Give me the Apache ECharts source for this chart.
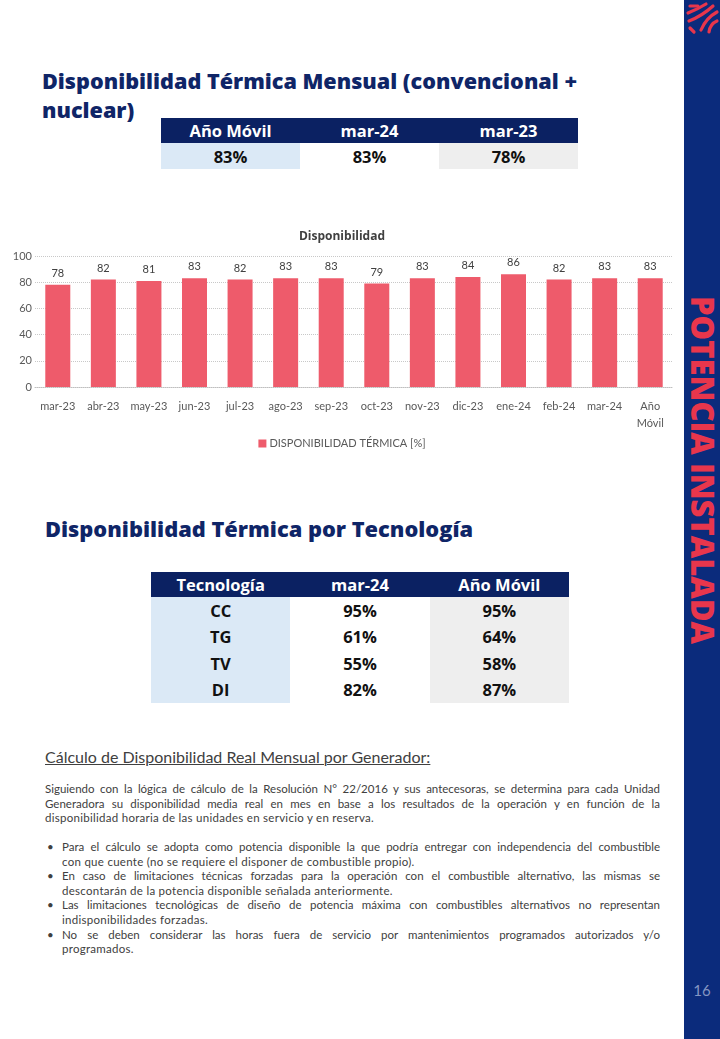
<!DOCTYPE html>
<html>
<head>
<meta charset="utf-8">
<script src="https://cdn.jsdelivr.net/npm/echarts@6/dist/echarts.min.js"></script>
<style>
  html,body{margin:0;padding:0;background:#fff;}
  body{width:720px;height:1039px;position:relative;overflow:hidden;font-family:"Lato","Open Sans",sans-serif;}
  .abs{position:absolute;}
  .title{font-family:"Open Sans",sans-serif;font-weight:800;color:#0f2567;white-space:nowrap;}
  table.t{position:absolute;border-collapse:collapse;font-family:"Open Sans",sans-serif;font-weight:700;table-layout:fixed;}
  table.t th{background:#0b2162;color:#fff;font-size:16.5px;font-weight:700;padding:0;text-align:center;}
  table.t td{color:#111;font-size:16.5px;padding:0;text-align:center;}
  .c1{background:#dbe9f6;}
  .c3{background:#eeeeee;}
  #sidebar{position:absolute;left:684px;top:0;width:36px;height:1039px;background:#0b2b7c;}
  #vert{position:absolute;left:703px;top:470px;transform:translate(-50%,-50%) rotate(90deg);font-family:"Open Sans",sans-serif;font-weight:800;font-size:31px;color:#e8364c;white-space:nowrap;}
  #pnum{position:absolute;left:684px;width:36px;top:981px;text-align:center;font-family:"Lato",sans-serif;font-size:15px;color:#8596c2;}
  .body{color:#404040;font-size:11.5px;letter-spacing:0.28px;line-height:14.6px;}
  .j{text-align:justify;text-align-last:justify;white-space:nowrap;letter-spacing:0;}
  .l{text-align:left;white-space:nowrap;}
  .li{position:relative;padding-left:17px;}
  .li .dot{position:absolute;left:2px;top:0;}
</style>
</head>
<body>
<div id="sidebar"></div>
<svg class="abs" style="left:684px;top:0" width="36" height="40" viewBox="0 0 36 40">
  <g fill="none" stroke="#e8364c" stroke-width="3.2" stroke-linecap="round">
    <path d="M6 6 L14 6"/>
    <path d="M4 13 Q14 9 22 4"/>
    <path d="M5 21 Q18 16 29 6"/>
    <path d="M33 12 Q22 18 17 30"/>
    <path d="M33 21 Q26 24 25 32"/>
    <path d="M6 28 L10 32"/>
  </g>
</svg>
<div id="vert">POTENCIA INSTALADA</div>
<div id="pnum">16</div>

<div class="abs title" id="t1" style="left:42px;top:66px;font-size:21.6px;line-height:29px;">Disponibilidad Térmica Mensual (convencional +<br>nuclear)</div>
<table class="t" id="tab1" style="left:161px;top:118px;width:417px;"></table>

<div id="chart" class="abs" style="left:0;top:215px;width:684px;height:250px;"></div>

<div class="abs title" id="t2" style="left:45px;top:514px;font-size:21.8px;line-height:29px;">Disponibilidad Térmica por Tecnología</div>
<table class="t" id="tab2" style="left:151px;top:572px;width:418px;"></table>

<div class="abs" style="left:45px;top:747px;font-size:16px;color:#404040;text-decoration:underline;text-decoration-thickness:1px;white-space:nowrap;">Cálculo de Disponibilidad Real Mensual por Generador:</div>
<div class="abs body" style="left:45px;top:782px;width:615px;">
  <div class="j">Siguiendo con la lógica de cálculo de la Resolución N° 22/2016 y sus antecesoras, se determina para cada Unidad</div>
  <div class="j">Generadora su disponibilidad media real en mes en base a los resultados de la operación y en función de la</div>
  <div class="l">disponibilidad horaria de las unidades en servicio y en reserva.</div>
</div>
<div class="abs body" style="left:45px;top:840px;width:615px;">
  <div class="li"><span class="dot">•</span><div class="j">Para el cálculo se adopta como potencia disponible la que podría entregar con independencia del combustible</div><div class="l">con que cuente (no se requiere el disponer de combustible propio).</div></div>
  <div class="li"><span class="dot">•</span><div class="j">En caso de limitaciones técnicas forzadas para la operación con el combustible alternativo, las mismas se</div><div class="l">descontarán de la potencia disponible señalada anteriormente.</div></div>
  <div class="li"><span class="dot">•</span><div class="j">Las limitaciones tecnológicas de diseño de potencia máxima con combustibles alternativos no representan</div><div class="l">indisponibilidades forzadas.</div></div>
  <div class="li"><span class="dot">•</span><div class="j">No se deben considerar las horas fuera de servicio por mantenimientos programados autorizados y/o</div><div class="l">programados.</div></div>
</div>

<script>
// ---- data ----
const categories = ['mar-23','abr-23','may-23','jun-23','jul-23','ago-23','sep-23','oct-23','nov-23','dic-23','ene-24','feb-24','mar-24','Año\nMóvil'];
const disponibilidad = [78,82,81,83,82,83,83,79,83,84,86,82,83,83];
const yMin = 0, yMax = 100, yInterval = 20;
const seriesName = 'DISPONIBILIDAD TÉRMICA [%]';
const chartTitle = 'Disponibilidad';

const resumenHeaders = ['Año Móvil','mar-24','mar-23'];
const resumenValues = ['83%','83%','78%'];

const tecHeaders = ['Tecnología','mar-24','Año Móvil'];
const tecnologias = ['CC','TG','TV','DI'];
const tecMar24 = ['95%','61%','55%','82%'];
const tecAnoMovil = ['95%','64%','58%','87%'];

// ---- tables ----
function buildTable(id, headers, rows, hh, rh){
  const t = document.getElementById(id);
  let h = '<tr style="height:'+hh+'px">' + headers.map(x=>'<th>'+x+'</th>').join('') + '</tr>';
  rows.forEach(r=>{
    h += '<tr style="height:'+rh+'px">' + r.map((x,i)=>'<td class="c'+(i+1)+'">'+x+'</td>').join('') + '</tr>';
  });
  t.innerHTML = h;
}
buildTable('tab1', resumenHeaders, [resumenValues], 25, 26);
buildTable('tab2', tecHeaders, tecnologias.map((c,i)=>[c, tecMar24[i], tecAnoMovil[i]]), 25, 26.5);

// ---- chart ----
const chart = echarts.init(document.getElementById('chart'));
const txt = '#595959';
chart.setOption({
  animation:false,
  textStyle:{fontFamily:'Lato, sans-serif'},
  title:{text:chartTitle,left:'center',top:11,textStyle:{fontSize:12,fontWeight:'bold',color:'#404040',fontFamily:'Open Sans, sans-serif'}},
  legend:{bottom:11,left:'center',itemWidth:8,itemHeight:8,itemGap:4,icon:'rect',
    textStyle:{fontSize:11,color:txt,padding:[0,0,0,-2]},data:[seriesName]},
  grid:{left:35,right:11,top:41,bottom:78},
  xAxis:{type:'category',data:categories,
    axisLine:{show:true,lineStyle:{color:'#bfbfbf',type:'dotted'}},axisTick:{show:false},
    axisLabel:{interval:0,fontSize:11,color:txt,margin:11,lineHeight:17}},
  yAxis:{type:'value',min:yMin,max:yMax,interval:yInterval,
    axisLine:{show:false},axisTick:{show:false},
    axisLabel:{fontSize:11,color:txt,margin:3},
    splitLine:{lineStyle:{color:'#c8c8c8',type:'dotted'}}},
  series:[{type:'bar',name:seriesName,data:disponibilidad,barWidth:25,
    itemStyle:{color:'#ee5b6b'},
    label:{show:true,position:'top',distance:6,fontSize:11,color:'#404040'}}]
});
</script>
</body>
</html>
